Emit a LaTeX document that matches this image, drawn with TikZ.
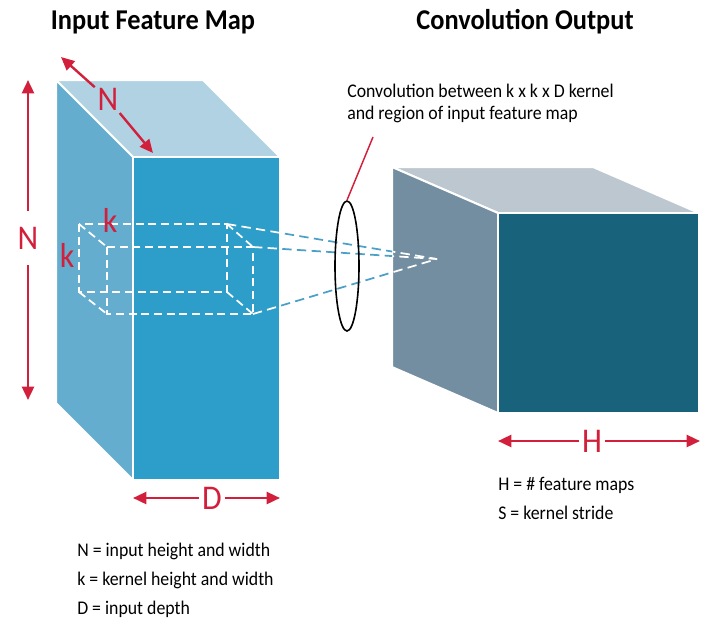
\documentclass[tikz,border=0pt]{standalone}
\usepackage{fontspec}
\setmainfont{Carlito}[FakeStretch=0.92]
\usetikzlibrary{arrows.meta,positioning,shapes.geometric}
\definecolor{dimred}{RGB}{210,32,60}
\definecolor{inTop}{RGB}{176,210,227}
\definecolor{inSide}{RGB}{100,173,207}
\definecolor{inFront}{RGB}{45,158,201}
\definecolor{outTop}{RGB}{189,199,208}
\definecolor{outSide}{RGB}{115,142,160}
\definecolor{outFront}{RGB}{25,98,124}
\definecolor{rayblue}{RGB}{75,160,200}
\tikzset{
    face/.style={draw=white,line width=1.5pt,line join=round},
    kernel/.style={white,line width=1.3pt,dash pattern=on 6pt off 3.5pt},
    ray/.style={line width=1.3pt,dash pattern=on 7pt off 4pt},
    lens/.style={draw=black,ellipse,minimum width=18pt,minimum height=97.5pt,inner sep=0pt,line width=1.2pt},
    leader/.style={dimred,line width=1.1pt},
    dimlabel/.style={text=dimred,font=\fontsize{26}{26}\selectfont,inner sep=2pt},
    dimarrow/.style={dimred,line width=1.8pt,-{Triangle[length=10pt,width=9pt]}},
    legend/.style={font=\fontsize{14.5}{16}\selectfont,inner sep=0pt,text height=9pt,text depth=2.5pt},
    heading/.style={font=\bfseries\fontsize{21.5}{23}\selectfont}
}

\begin{document}
\begin{tikzpicture}[x=0.75pt,y=-0.75pt]
    \useasboundingbox (0,0) rectangle (714,629);

    % corners of the input feature map
    \coordinate (ia) at (56,80);
    \coordinate (ib) at (203,80);
    \coordinate (ic) at (280,157);
    \coordinate (id) at (133,157);
    \coordinate (ie) at (133,480);
    \coordinate (if) at (56,403);
    \coordinate (ig) at (280,480);

    % corners of the convolution output
    \coordinate (oa) at (392,167);
    \coordinate (ob) at (593,167);
    \coordinate (oc) at (699,213);
    \coordinate (od) at (498,213);
    \coordinate (oe) at (498,413);
    \coordinate (of) at (392,367);
    \coordinate (og) at (699,413);

    % draw the faces
    \path[face,fill=inTop] (ia) -- (ib) -- (ic) -- (id) -- cycle;
    \path[face,fill=inSide] (ia) -- (id) -- (ie) -- (if) -- cycle;
    \path[face,fill=inFront] (id) -- (ic) -- (ig) -- (ie) -- cycle;
    \path[face,fill=outTop] (oa) -- (ob) -- (oc) -- (od) -- cycle;
    \path[face,fill=outSide] (oa) -- (od) -- (oe) -- (of) -- cycle;
    \path[face,fill=outFront] (od) -- (oc) -- (og) -- (oe) -- cycle;

    % kernel region
    \coordinate (kbtl) at (79,224);
    \coordinate (kbtr) at (227,224);
    \coordinate (kbbl) at (79,292);
    \coordinate (kbbr) at (227,292);
    \coordinate (kftl) at (107,247);
    \coordinate (kftr) at (253,247);
    \coordinate (kfbl) at (107,314);
    \coordinate (kfbr) at (253,314);
    \draw[kernel] (kbtl) rectangle (kbbr);
    \draw[kernel] (kftl) rectangle (kfbr);
    \foreach \c in {tl,tr,bl,br}
        \draw[kernel] (kb\c) -- (kf\c);

    % rays towards the output
    \coordinate (focus) at (437,259);
    \foreach \c in {kbtr,kftr,kfbr}
        \draw[ray,white] (\c) -- (focus);
    \begin{scope}
        \clip (280,0) rectangle (392,629);
        \foreach \c in {kbtr,kftr,kfbr}
            \draw[ray,rayblue] (\c) -- (focus);
    \end{scope}

    % lens and its leader
    \node[lens] (lens) at (347,266) {};
    \coordinate (tip) at (373,137);
    \draw[leader] (lens.north) -- (tip);

    % titles
    \node[heading] (inTitle) at (153,22) {Input Feature Map};
    \node[heading] (outTitle) at (525,22) {Convolution Output};

    % annotation
    \node[legend,anchor=base west] (note1) at (347,97) {Convolution between k x k x D kernel};
    \node[legend,below=5pt of note1.south west,anchor=north west] (note2) {and region of input feature map};

    % dimension labels and arrows
    \node[dimlabel,inner ysep=12pt] (nv) at (28,238) {N};
    \coordinate (nvtop) at (28,80);
    \coordinate (nvbot) at (28,400);
    \draw[dimarrow] (nv) -- (nvtop);
    \draw[dimarrow] (nv) -- (nvbot);

    \node[dimlabel] (nd) at (108,99) {N};
    \coordinate (ndtop) at (61,57);
    \coordinate (ndbot) at (153,153);
    \draw[dimarrow] (nd) -- (ndtop);
    \draw[dimarrow] (nd) -- (ndbot);

    \node[dimlabel] (kh) at (110,220) {k};
    \node[dimlabel] (kv) at (67,255) {k};

    \node[dimlabel] (dd) at (212,498) {D};
    \coordinate (ddl) at (133,498);
    \coordinate (ddr) at (280,498);
    \draw[dimarrow] (dd) -- (ddl);
    \draw[dimarrow] (dd) -- (ddr);

    \node[dimlabel] (hh) at (592,441) {H};
    \coordinate (hhl) at (498,441);
    \coordinate (hhr) at (700,441);
    \draw[dimarrow] (hh) -- (hhl);
    \draw[dimarrow] (hh) -- (hhr);

    % legends
    \node[legend,anchor=base west] (hleg) at (498,490) {H = \# feature maps};
    \node[legend,below=10.25pt of hleg.south west,anchor=north west] (sleg) {S = kernel stride};

    \node[legend,anchor=base west] (nleg) at (77,556) {N = input height and width};
    \node[legend,below=9.9pt of nleg.south west,anchor=north west] (kleg) {k = kernel height and width};
    \node[legend,below=9.9pt of kleg.south west,anchor=north west] (dleg) {D = input depth};
\end{tikzpicture}
\end{document}
